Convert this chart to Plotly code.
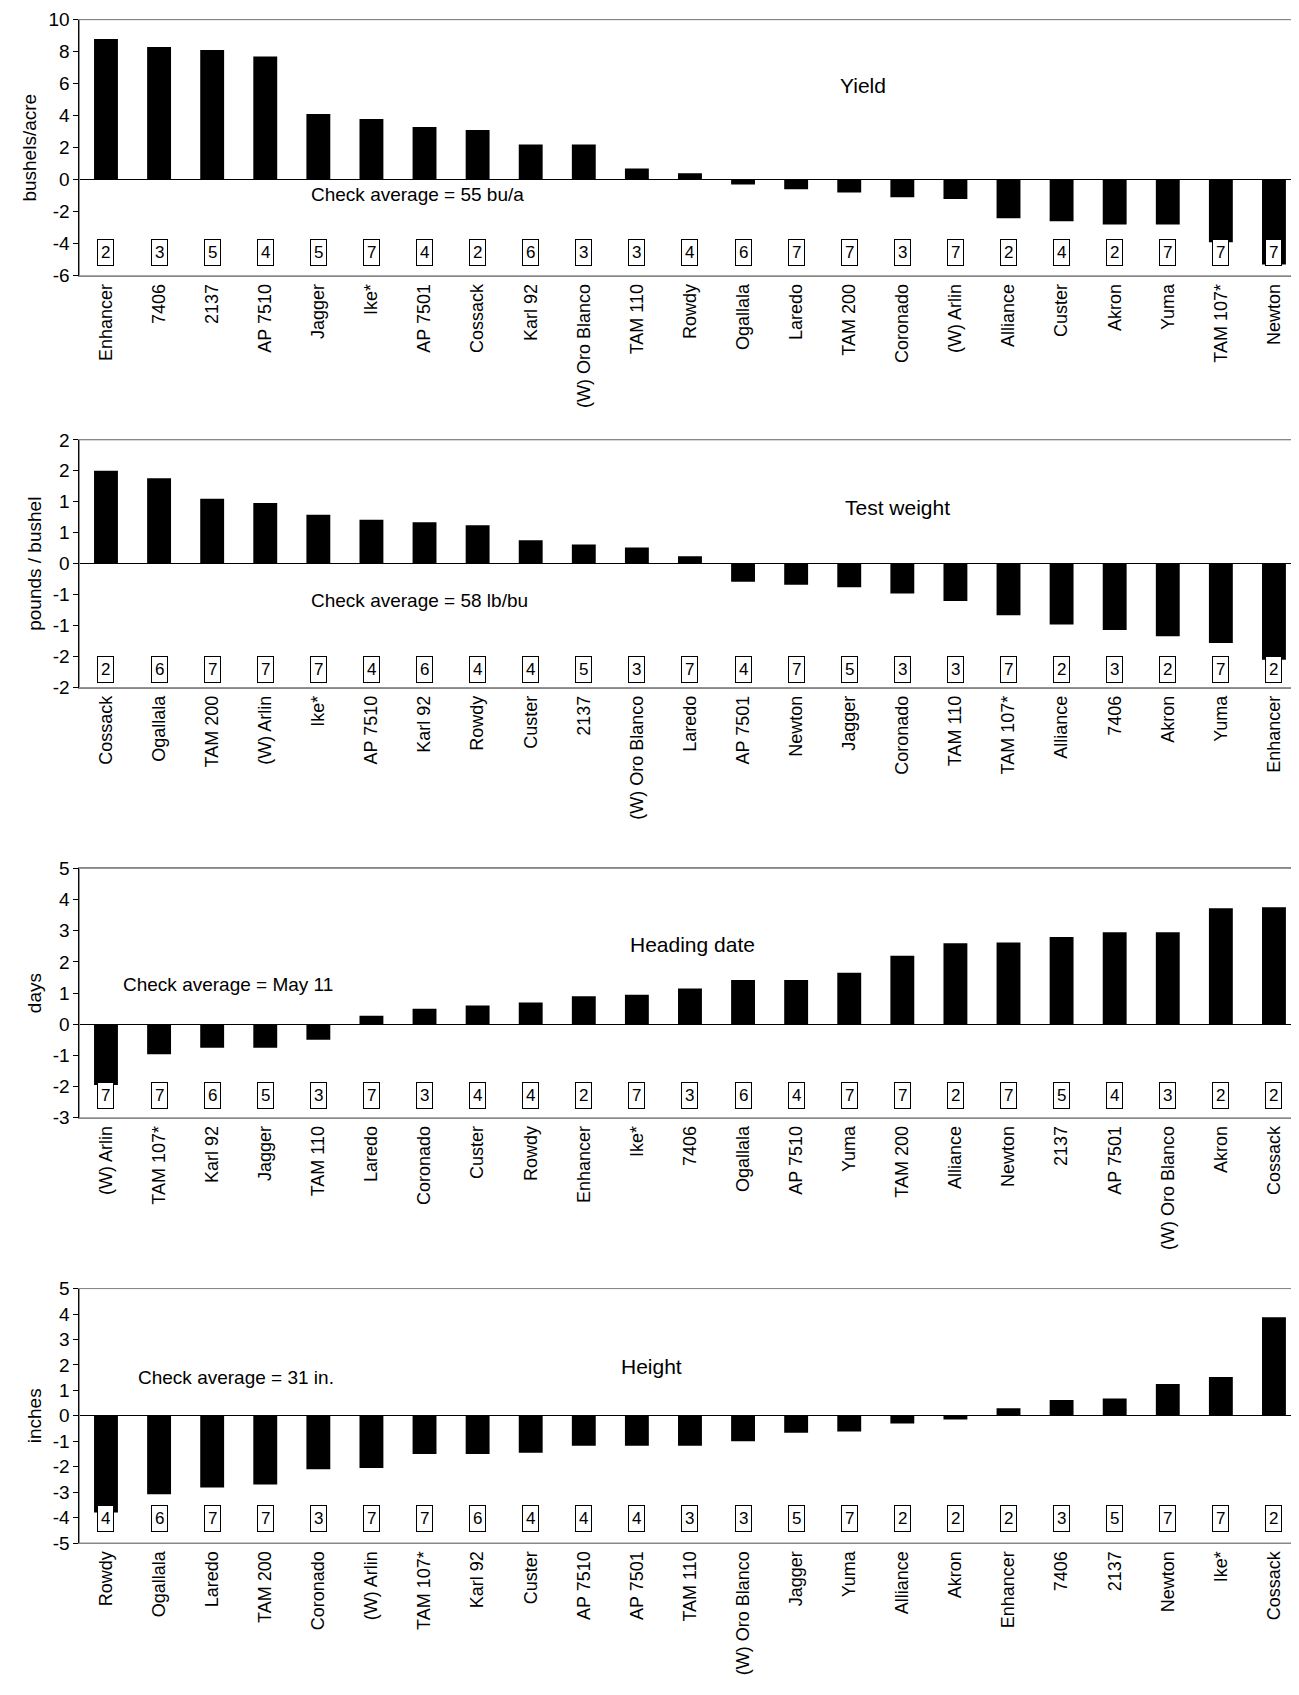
import plotly.graph_objects as go

# Yield
yield_cats = ["Enhancer", "7406", "2137", "AP 7510", "Jagger", "Ike*", "AP 7501", "Cossack", "Karl 92",
              "(W) Oro Blanco", "TAM 110", "Rowdy", "Ogallala", "Laredo", "TAM 200", "Coronado", "(W) Arlin",
              "Alliance", "Custer", "Akron", "Yuma", "TAM 107*", "Newton"]
yield_vals = [8.8, 8.3, 8.1, 7.7, 4.1, 3.8, 3.3, 3.1, 2.2, 2.2, 0.7, 0.4, -0.3, -0.6, -0.8, -1.1, -1.2,
              -2.4, -2.6, -2.8, -2.8, -3.9, -5.3]
yield_box = [2, 3, 5, 4, 5, 7, 4, 2, 6, 3, 3, 4, 6, 7, 7, 3, 7, 2, 4, 2, 7, 7, 7]

# Test weight
tw_cats = ["Cossack", "Ogallala", "TAM 200", "(W) Arlin", "Ike*", "AP 7510", "Karl 92", "Rowdy", "Custer",
           "2137", "(W) Oro Blanco", "Laredo", "AP 7501", "Newton", "Jagger", "Coronado", "TAM 110",
           "TAM 107*", "Alliance", "7406", "Akron", "Yuma", "Enhancer"]
tw_vals = [1.5, 1.38, 1.05, 0.98, 0.79, 0.71, 0.67, 0.62, 0.38, 0.31, 0.26, 0.12, -0.29, -0.34, -0.38,
           -0.48, -0.6, -0.83, -0.98, -1.07, -1.17, -1.28, -1.55]
tw_box = [2, 6, 7, 7, 7, 4, 6, 4, 4, 5, 3, 7, 4, 7, 5, 3, 3, 7, 2, 3, 2, 7, 2]

# Heading date
hd_cats = ["(W) Arlin", "TAM 107*", "Karl 92", "Jagger", "TAM 110", "Laredo", "Coronado", "Custer", "Rowdy",
           "Enhancer", "Ike*", "7406", "Ogallala", "AP 7510", "Yuma", "TAM 200", "Alliance", "Newton",
           "2137", "AP 7501", "(W) Oro Blanco", "Akron", "Cossack"]
hd_vals = [-1.95, -0.96, -0.75, -0.75, -0.5, 0.27, 0.5, 0.6, 0.7, 0.9, 0.95, 1.15, 1.42, 1.42, 1.65, 2.2,
           2.6, 2.62, 2.8, 2.95, 2.95, 3.72, 3.75]
hd_box = [7, 7, 6, 5, 3, 7, 3, 4, 4, 2, 7, 3, 6, 4, 7, 7, 2, 7, 5, 4, 3, 2, 2]

# Height
ht_cats = ["Rowdy", "Ogallala", "Laredo", "TAM 200", "Coronado", "(W) Arlin", "TAM 107*", "Karl 92", "Custer",
           "AP 7510", "AP 7501", "TAM 110", "(W) Oro Blanco", "Jagger", "Yuma", "Alliance", "Akron",
           "Enhancer", "7406", "2137", "Newton", "Ike*", "Cossack"]
ht_vals = [-3.8, -3.08, -2.82, -2.7, -2.1, -2.05, -1.5, -1.5, -1.45, -1.18, -1.18, -1.18, -1.0, -0.67,
           -0.62, -0.3, -0.15, 0.3, 0.62, 0.68, 1.25, 1.52, 3.87]
ht_box = [4, 6, 7, 7, 3, 7, 7, 6, 4, 4, 4, 3, 3, 5, 7, 2, 2, 2, 3, 5, 7, 7, 2]

panels = [
    dict(cats=yield_cats, vals=yield_vals, box=yield_box, box_y=-4.55, rng=[-6, 10],
         tickvals=list(range(-6, 11, 2)), ticktext=[str(v) for v in range(-6, 11, 2)],
         ytitle="bushels/acre", title="Yield", title_pos=(14.26, 5.9),
         check="Check average = 55 bu/a", check_pos=(5.87, -0.9), domain=[0.846, 0.999]),
    dict(cats=tw_cats, vals=tw_vals, box=tw_box, box_y=-1.7, rng=[-2, 2],
         tickvals=[-2, -1.5, -1, -0.5, 0, 0.5, 1, 1.5, 2],
         ticktext=["-2", "-2", "-1", "-1", "0", "1", "1", "2", "2"],
         ytitle="pounds / bushel", title="Test weight", title_pos=(14.9, 0.9),
         check="Check average = 58 lb/bu", check_pos=(5.9, -0.6), domain=[0.600, 0.748]),
    dict(cats=hd_cats, vals=hd_vals, box=hd_box, box_y=-2.28, rng=[-3, 5],
         tickvals=list(range(-3, 6)), ticktext=[str(v) for v in range(-3, 6)],
         ytitle="days", title="Heading date", title_pos=(11.05, 2.57),
         check="Check average = May 11", check_pos=(2.3, 1.27), domain=[0.343, 0.492]),
    dict(cats=ht_cats, vals=ht_vals, box=ht_box, box_y=-4.03, rng=[-5, 5],
         tickvals=list(range(-5, 6)), ticktext=[str(v) for v in range(-5, 6)],
         ytitle="inches", title="Height", title_pos=(10.27, 1.93),
         check="Check average = 31 in.", check_pos=(2.45, 1.5), domain=[0.089, 0.241]),
]

font = "Liberation Sans, Arial, sans-serif"
fig = go.Figure()
annotations = []
shapes = []
for i, p in enumerate(panels, start=1):
    xa = "x" if i == 1 else f"x{i}"
    ya = "y" if i == 1 else f"y{i}"
    fig.add_trace(go.Bar(x=p["cats"], y=p["vals"], marker=dict(color="black", line=dict(width=0)),
                         xaxis=xa, yaxis=ya, showlegend=False))
    for j, b in enumerate(p["box"]):
        annotations.append(dict(x=j, y=p["box_y"], xref=xa, yref=ya, text=str(b), showarrow=False,
                                font=dict(size=17, family=font, color="black"),
                                bgcolor="white", bordercolor="black", borderwidth=1, borderpad=3))
    annotations.append(dict(x=p["title_pos"][0], y=p["title_pos"][1], xref=xa, yref=ya, text=p["title"],
                            showarrow=False, font=dict(size=21, family=font, color="black")))
    annotations.append(dict(x=p["check_pos"][0], y=p["check_pos"][1], xref=xa, yref=ya, text=p["check"],
                            showarrow=False, font=dict(size=19, family=font, color="black")))
    fig.update_layout({
        f"xaxis{'' if i == 1 else i}": dict(domain=[0.055, 0.995], anchor=ya, tickangle=-90,
                                            showline=True, linecolor="#888", mirror=True, ticks="",
                                            tickfont=dict(size=18, family=font, color="black"),
                                            showgrid=False),
        f"yaxis{'' if i == 1 else i}": dict(domain=p["domain"], anchor=xa, range=p["rng"],
                                            tickmode="array", tickvals=p["tickvals"], ticktext=p["ticktext"],
                                            ticks="outside", ticklen=5, tickcolor="black",
                                            showline=True, linecolor="black", mirror=False,
                                            zeroline=True, zerolinecolor="black", zerolinewidth=1,
                                            showgrid=False,
                                            tickfont=dict(size=19, family=font, color="black"),
                                            title=dict(text=p["ytitle"], standoff=6,
                                                       font=dict(size=19, family=font, color="black"))),
    })
    shapes.append(dict(type="rect", xref="paper", yref="paper", x0=0.055, x1=0.995,
                       y0=p["domain"][0], y1=p["domain"][1], line=dict(color="#888", width=1)))

fig.update_layout(width=1299, height=1695, margin=dict(l=0, r=0, t=0, b=0),
                  plot_bgcolor="white", paper_bgcolor="white", bargap=0.55,
                  annotations=annotations, shapes=shapes)
fig.write_html("out.html")
